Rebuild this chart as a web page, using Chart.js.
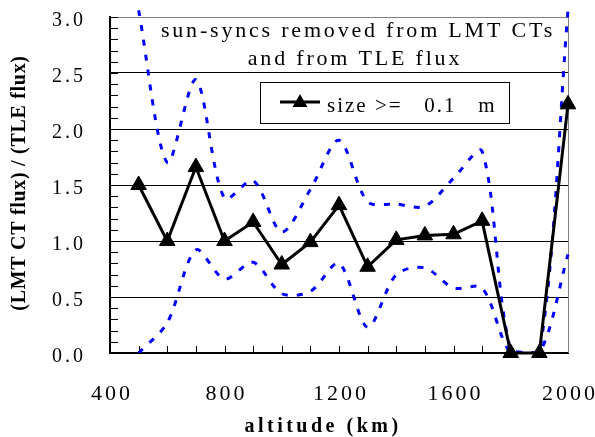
<!DOCTYPE html>
<html>
<head>
<meta charset="utf-8">
<script src="https://cdn.jsdelivr.net/npm/chart.js@4.4.1/dist/chart.umd.min.js"></script>
<style>
  html, body { margin: 0; padding: 0; background: #fff; }
  #wrap { width: 595px; height: 437px; }
</style>
</head>
<body>
<div id="wrap"><canvas id="fluxChart" width="595" height="437"></canvas></div>
<script>
// altitude bins (km) and flux ratios
const altitudes  = [500, 600, 700, 800, 900, 1000, 1100, 1200, 1300, 1400, 1500, 1600, 1700, 1800, 1900, 2000];
const ratio      = [1.50, 1.00, 1.66, 1.00, 1.17, 0.79, 0.99, 1.32, 0.77, 1.01, 1.05, 1.06, 1.18, 0.00, 0.00, 2.22];
const upperBound = [3.06, 1.70, 2.44, 1.38, 1.54, 1.08, 1.46, 1.90, 1.35, 1.33, 1.31, 1.56, 1.80, 0.03, 0.00, 3.06];
const lowerBound = [0.00, 0.27, 0.92, 0.66, 0.81, 0.53, 0.55, 0.80, 0.23, 0.70, 0.76, 0.58, 0.58, 0.00, 0.00, 0.88];

const xTickLabels = [400, 800, 1200, 1600, 2000];
const yTickLabels = [0.0, 0.5, 1.0, 1.5, 2.0, 2.5, 3.0];

const titleLines = ['sun-syncs removed from LMT CTs', 'and from TLE flux'];
const legendText = 'size >=   0.1   m';
const xTitle = 'altitude (km)';
const yTitle = '(LMT CT flux) / (TLE flux)';

const SERIF = "'Liberation Serif', 'Times New Roman', serif";

function toPoints(ys) {
    return altitudes.map((x, i) => ({ x: x, y: ys[i] }));
}

function isYLabel(v) {
    return yTickLabels.some(t => Math.abs(t - v) < 1e-6);
}

// the label padding would otherwise shrink the plot area
function noScalePadding(s) {
    s.paddingTop = 0;
    s.paddingBottom = 0;
    s.paddingLeft = 0;
    s.paddingRight = 0;
}

// tick marks pointing into the plot, like the original
const innerTicks = {
    id: 'innerTicks',
    beforeDatasetsDraw(chart) {
        const ctx = chart.ctx;
        const area = chart.chartArea;
        const xs = chart.scales.x, ys = chart.scales.y;
        ctx.save();
        ctx.strokeStyle = '#000';
        ctx.lineWidth = 1;
        ctx.beginPath();
        ys.ticks.forEach(t => {
            const py = Math.round(ys.getPixelForValue(t.value)) + 0.5;
            ctx.moveTo(area.left, py);
            ctx.lineTo(area.left + 8, py);
        });
        xs.ticks.forEach(t => {
            const px = Math.round(xs.getPixelForValue(t.value)) + 0.5;
            ctx.moveTo(px, area.bottom);
            ctx.lineTo(px, area.bottom - 7);
        });
        ctx.stroke();
        // grey frame on the right
        ctx.strokeStyle = '#808080';
        ctx.beginPath();
        ctx.moveTo(area.right + 0.5, area.top);
        ctx.lineTo(area.right + 0.5, area.bottom);
        ctx.stroke();
        ctx.restore();
    }
};

const spacedText = {
    id: 'spacedText',
    beforeDraw(chart) {
        chart.ctx.letterSpacing = '3px';
    },
    afterDraw(chart) {
        const ctx = chart.ctx;
        ctx.save();
        ctx.fillStyle = '#000';

        // annotation inside plot
        ctx.font = '22px ' + SERIF;
        ctx.letterSpacing = '2.8px';
        ctx.textAlign = 'center';
        ctx.textBaseline = 'alphabetic';
        ctx.fillText(titleLines[0], 358, 37);
        ctx.fillText(titleLines[1], 355, 65);

        // legend box
        ctx.fillStyle = '#fff';
        ctx.fillRect(260, 82, 249, 41);
        ctx.strokeStyle = '#000';
        ctx.lineWidth = 1;
        ctx.strokeRect(260.5, 82.5, 249, 41);
        ctx.lineWidth = 3;
        ctx.beginPath();
        ctx.moveTo(280, 102);
        ctx.lineTo(320, 102);
        ctx.stroke();
        ctx.fillStyle = '#000';
        ctx.beginPath();
        ctx.moveTo(300, 94);
        ctx.lineTo(307.5, 107);
        ctx.lineTo(292.5, 107);
        ctx.closePath();
        ctx.fill();
        ctx.font = '21px ' + SERIF;
        ctx.letterSpacing = '2px';
        ctx.textAlign = 'left';
        ctx.fillText(legendText, 327, 112);

        // axis titles
        ctx.font = 'bold 20px ' + SERIF;
        ctx.letterSpacing = '3.5px';
        ctx.textAlign = 'center';
        ctx.fillText(xTitle, 323, 432);

        ctx.letterSpacing = '0.7px';
        ctx.translate(20, 183);
        ctx.rotate(-Math.PI / 2);
        ctx.textBaseline = 'middle';
        ctx.fillText(yTitle, 0, 0);
        ctx.restore();
    }
};

const chart = new Chart(document.getElementById('fluxChart'), {
    type: 'line',
    data: {
        datasets: [
            {
                label: legendText,
                data: toPoints(ratio),
                borderColor: '#000',
                borderWidth: 3,
                pointStyle: 'triangle',
                pointRadius: 9,
                pointBackgroundColor: '#000',
                pointBorderColor: '#000',
                pointBorderWidth: 1,
                tension: 0,
                clip: false,
                order: 0
            },
            {
                label: 'upper',
                data: toPoints(upperBound),
                borderColor: '#0000ff',
                borderWidth: 3,
                borderDash: [6, 9],
                pointRadius: 0,
                tension: 0.3,
                clip: { left: 2, top: 8, right: 2, bottom: 0 },
                order: 1
            },
            {
                label: 'lower',
                data: toPoints(lowerBound),
                borderColor: '#0000ff',
                borderWidth: 3,
                borderDash: [6, 9],
                pointRadius: 0,
                tension: 0.3,
                clip: { left: 2, top: 8, right: 2, bottom: 0 },
                order: 2
            }
        ]
    },
    options: {
        responsive: false,
        animation: false,
        devicePixelRatio: 1,
        layout: { padding: { left: 0, right: 27, top: 17, bottom: 0 } },
        plugins: {
            legend: { display: false },
            tooltip: { enabled: false },
            title: { display: false }
        },
        scales: {
            x: {
                type: 'linear',
                min: 400,
                max: 2000,
                afterFit: s => { s.height = 84; noScalePadding(s); },
                grid: { display: false },
                border: { display: true, color: '#000', width: 2 },
                ticks: {
                    stepSize: 100,
                    autoSkip: false,
                    maxRotation: 0,
                    maxTicksLimit: 100,
                    padding: 20,
                    labelOffset: 2,
                    color: '#000',
                    font: { family: SERIF, size: 22 },
                    callback: v => xTickLabels.includes(v) ? String(v) : ''
                }
            },
            y: {
                min: 0,
                max: 3,
                afterFit: s => { s.width = 110; noScalePadding(s); },
                grid: {
                    drawTicks: false,
                    lineWidth: 1,
                    color: c => {
                        const v = c.tick.value;
                        if (Math.abs(v - 3) < 1e-6) return '#808080';
                        if (Math.abs(v) < 1e-6) return 'rgba(0,0,0,0)';
                        return isYLabel(v) ? '#000' : 'rgba(0,0,0,0)';
                    }
                },
                border: { display: true, color: '#000', width: 2 },
                ticks: {
                    stepSize: 0.1,
                    autoSkip: false,
                    maxTicksLimit: 100,
                    padding: 24,
                    labelOffset: 4,
                    color: '#000',
                    font: { family: SERIF, size: 20 },
                    callback: v => isYLabel(v) ? v.toFixed(1) : ''
                }
            }
        }
    },
    plugins: [innerTicks, spacedText]
});
</script>
</body>
</html>
